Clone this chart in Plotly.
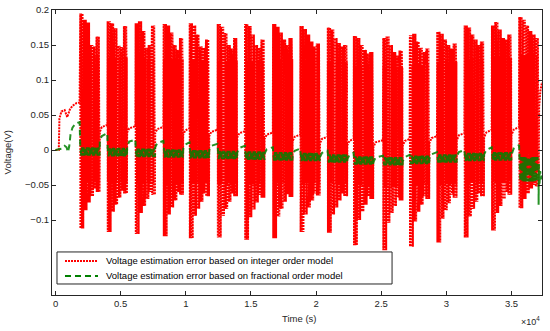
import plotly.graph_objects as go

# ---------------- data ----------------
# start time (s) of each of the 17 dynamic-current blocks
block_start = [1900, 4000, 6150, 8300, 10300, 12450, 14550, 16700, 18800,
               20900, 22900, 25150, 27200, 29300, 31400, 33500, 35600]
# start time of each sub-pulse inside a block (s, relative) and its duration
pulse_offset = [0, 250, 500, 750, 1000, 1250]
pulse_width = 230

# integer-order model error: highest value of each sub-pulse (V)
block_peaks = [
    [0.195, 0.186, 0.182, 0.150, 0.148, 0.162],
    [0.184, 0.181, 0.174, 0.149, 0.147, 0.177],
    [0.181, 0.184, 0.170, 0.146, 0.150, 0.178],
    [0.180, 0.178, 0.168, 0.150, 0.143, 0.160],
    [0.181, 0.178, 0.165, 0.148, 0.146, 0.158],
    [0.180, 0.176, 0.167, 0.150, 0.145, 0.160],
    [0.180, 0.177, 0.165, 0.150, 0.146, 0.158],
    [0.180, 0.176, 0.168, 0.158, 0.150, 0.160],
    [0.177, 0.173, 0.165, 0.155, 0.148, 0.152],
    [0.175, 0.172, 0.160, 0.153, 0.148, 0.150],
    [0.163, 0.160, 0.150, 0.143, 0.138, 0.140],
    [0.160, 0.162, 0.150, 0.140, 0.135, 0.142],
    [0.164, 0.166, 0.155, 0.146, 0.140, 0.145],
    [0.169, 0.166, 0.158, 0.150, 0.145, 0.152],
    [0.178, 0.175, 0.165, 0.158, 0.150, 0.155],
    [0.178, 0.183, 0.172, 0.160, 0.158, 0.165],
    [0.190, 0.186, 0.178, 0.170, 0.165, 0.160],
]
# integer-order model error: lowest value of each sub-pulse (V)
block_troughs = [
    [-0.112, -0.086, -0.075, -0.066, -0.055, -0.060],
    [-0.117, -0.088, -0.078, -0.068, -0.058, -0.062],
    [-0.120, -0.090, -0.080, -0.070, -0.060, -0.064],
    [-0.123, -0.092, -0.082, -0.072, -0.060, -0.064],
    [-0.126, -0.094, -0.084, -0.074, -0.062, -0.066],
    [-0.125, -0.094, -0.084, -0.074, -0.062, -0.066],
    [-0.128, -0.096, -0.085, -0.075, -0.064, -0.068],
    [-0.126, -0.095, -0.084, -0.074, -0.063, -0.067],
    [-0.117, -0.092, -0.082, -0.072, -0.062, -0.065],
    [-0.118, -0.092, -0.082, -0.072, -0.062, -0.066],
    [-0.136, -0.100, -0.088, -0.078, -0.066, -0.070],
    [-0.143, -0.104, -0.090, -0.080, -0.068, -0.072],
    [-0.138, -0.102, -0.088, -0.078, -0.066, -0.070],
    [-0.132, -0.098, -0.086, -0.076, -0.064, -0.068],
    [-0.125, -0.095, -0.084, -0.074, -0.062, -0.066],
    [-0.115, -0.090, -0.080, -0.070, -0.060, -0.064],
    [-0.083, -0.070, -0.062, -0.055, -0.050, -0.052],
]
# dense band of the integer-order error inside each block (V)
core_hi = [0.135, 0.132, 0.130, 0.130, 0.128, 0.128, 0.128, 0.130, 0.128,
           0.126, 0.120, 0.118, 0.122, 0.126, 0.130, 0.132, 0.136]
core_lo = [-0.045, -0.046, -0.047, -0.048, -0.048, -0.048, -0.049, -0.048, -0.047,
           -0.047, -0.050, -0.052, -0.050, -0.049, -0.047, -0.045, -0.032]
# order in which the levels are visited inside a sub-pulse
stroke_pattern = ['P', 'T', 'H', 'L', 'H', 'L', 'P', 'L', 'H', 'L', 'H', 'T',
                  'H', 'L', 'H', 'L', 'P', 'L', 'H', 'L', 'H', 'T']

# integer-order error during rest periods between blocks (V)
red_gap_start = [0.026, 0.025, 0.024, 0.022, 0.020, 0.018, 0.016, 0.013,
                 0.010, 0.007, 0.004, 0.006, 0.010, 0.014, 0.018, 0.021]
red_gap_mid = [0.033, 0.031, 0.030, 0.028, 0.026, 0.024, 0.022, 0.019,
               0.016, 0.013, 0.011, 0.013, 0.017, 0.021, 0.025, 0.029]
red_gap_end = [0.036, 0.034, 0.033, 0.031, 0.029, 0.027, 0.025, 0.022,
               0.019, 0.016, 0.014, 0.016, 0.020, 0.024, 0.029, 0.033]

# fractional-order model error inside each block (V)
green_block_hi = [0.004, 0.003, 0.002, 0.001, 0.000, -0.001, -0.002, -0.003, -0.004,
                  -0.006, -0.009, -0.010, -0.008, -0.006, -0.004, -0.003, -0.010]
green_block_lo = [-0.008, -0.009, -0.010, -0.011, -0.012, -0.013, -0.014, -0.015, -0.016,
                  -0.018, -0.021, -0.022, -0.020, -0.018, -0.016, -0.015, -0.045]
# fractional-order error during rest periods (V)
green_gap_start = [0.014, 0.006, 0.004, 0.002, 0.000, -0.003, -0.005, -0.007,
                   -0.010, -0.013, -0.017, -0.016, -0.012, -0.009, -0.006, -0.007]
green_gap_mid = [0.020, 0.012, 0.010, 0.008, 0.006, 0.003, 0.001, -0.001,
                 -0.004, -0.007, -0.011, -0.010, -0.006, -0.003, 0.000, 0.002]
green_gap_end = [0.024, 0.015, 0.013, 0.011, 0.009, 0.006, 0.004, 0.002,
                 -0.001, -0.004, -0.008, -0.007, -0.003, 0.000, 0.004, 0.007]

# start-up section before the first block
pre_red_t = [0, 250, 300, 450, 700, 900, 1100, 1300, 1600, 1850]
pre_red = [0, 0, 0.045, 0.055, 0.057, 0.047, 0.058, 0.063, 0.067, 0.068]
pre_green_t = [0, 500, 700, 850, 950, 1050, 1150, 1300, 1550, 1850]
pre_green = [0, 0.002, 0.006, 0.004, -0.003, 0.005, 0.022, 0.032, 0.038, 0.040]
# end section after the last block
tail_red_t = [37120, 37220, 37340]
tail_red = [0.062, 0.085, 0.097]
tail_green_t = [37080, 37100, 37150, 37200, 37260, 37340]
tail_green = [-0.078, -0.020, -0.048, -0.030, -0.042, -0.032]

x_tickvals = [0, 5000, 10000, 15000, 20000, 25000, 30000, 35000]
x_ticktext = ['0', '0.5', '1', '1.5', '2', '2.5', '3', '3.5']
y_tickvals = [-0.1, -0.05, 0, 0.05, 0.1, 0.15, 0.2]
y_ticktext = ['\u22120.1', '\u22120.05', '0', '0.05', '0.1', '0.15', '0.2']

series_names = ['Voltage estimation error based on integer order model',
                'Voltage estimation error based on fractional order model']
series_colors = ['#FF0000', '#008000']
series_dash = ['2px,1px', '6px,4px']
series_width = [2, 2]

# ---------------- build series ----------------
n_blocks = len(block_start)
red_x, red_y = list(pre_red_t), list(pre_red)
green_x, green_y = list(pre_green_t), list(pre_green)
for b in range(n_blocks):
    s = block_start[b]
    for k, off in enumerate(pulse_offset):
        t0 = s + off
        lv = {'P': block_peaks[b][k], 'T': block_troughs[b][k],
              'H': core_hi[b], 'L': core_lo[b]}
        n = len(stroke_pattern)
        for i, key in enumerate(stroke_pattern):
            red_x.append(t0 + pulse_width * i / (n - 1))
            red_y.append(lv[key])
        for i, gv in enumerate([green_block_hi[b], green_block_lo[b],
                                green_block_hi[b], green_block_lo[b]]):
            green_x.append(t0 + pulse_width * i / 3)
            green_y.append(gv)
    end = s + pulse_offset[-1] + pulse_width
    if b < n_blocks - 1:
        nxt = block_start[b + 1]
        red_x += [end + 20, end + 180, nxt - 20]
        red_y += [red_gap_start[b], red_gap_mid[b], red_gap_end[b]]
        green_x += [end + 20, end + 180, nxt - 20]
        green_y += [green_gap_start[b], green_gap_mid[b], green_gap_end[b]]
red_x += tail_red_t
red_y += tail_red
green_x += tail_green_t
green_y += tail_green

fig = go.Figure()
fig.add_trace(go.Scatter(
    x=red_x, y=red_y, mode='lines', name=series_names[0], showlegend=False,
    line=dict(color=series_colors[0], width=series_width[0], dash=series_dash[0])))
fig.add_trace(go.Scatter(
    x=green_x, y=green_y, mode='lines', name=series_names[1], showlegend=False,
    opacity=0.85,
    line=dict(color=series_colors[1], width=series_width[1], dash=series_dash[1])))

axis_common = dict(showline=True, mirror='ticks', linecolor='#262626', linewidth=1,
                   ticks='inside', ticklen=4, tickcolor='#262626', showgrid=False,
                   zeroline=False, automargin=False,
                   tickfont=dict(size=9.5, color='#262626'))
fig.update_xaxes(range=[-270, 37340], tickvals=x_tickvals, ticktext=x_ticktext,
                 **axis_common)
fig.update_yaxes(range=[-0.207, 0.2], tickvals=y_tickvals, ticktext=y_ticktext,
                 **axis_common)

# legend box (MATLAB style) built from shapes + text
shapes = [dict(type='rect', xref='paper', yref='paper',
               x0=0.0102, x1=0.694, y0=0.0386, y1=0.151,
               line=dict(color='#262626', width=1), fillcolor='white', layer='above')]
annotations = []
legend_rows_y = [0.1193, 0.0667]
for i in range(2):
    shapes.append(dict(type='line', xref='paper', yref='paper',
                       x0=0.0265, x1=0.0939, y0=legend_rows_y[i], y1=legend_rows_y[i],
                       line=dict(color=series_colors[i], width=series_width[i],
                                 dash=series_dash[i]), layer='above'))
    annotations.append(dict(text=series_names[i], xref='paper', yref='paper',
                            x=0.1061, y=legend_rows_y[i], xanchor='left', yanchor='middle',
                            showarrow=False, font=dict(size=9.5, color='#000000')))
annotations += [
    dict(text='\u00d710<sup>4</sup>', xref='paper', yref='paper',
         x=0.999, y=-0.092, xanchor='right', yanchor='middle',
         showarrow=False, font=dict(size=9, color='#262626')),
    dict(text='Time (s)', xref='paper', yref='paper',
         x=0.505, y=-0.084, xanchor='center', yanchor='middle',
         showarrow=False, font=dict(size=9.5, color='#262626')),
    dict(text='Voltage(V)', xref='paper', yref='paper', textangle=-90,
         x=-0.09, y=0.5, xanchor='center', yanchor='middle',
         showarrow=False, font=dict(size=9.5, color='#262626')),
]

fig.update_layout(
    width=550, height=331,
    margin=dict(l=52, r=8, t=10, b=36),
    paper_bgcolor='white', plot_bgcolor='white',
    font=dict(family='Liberation Sans, Arial, sans-serif', size=9.5, color='#262626'),
    showlegend=False,
    shapes=shapes,
    annotations=annotations,
)

fig.write_html('out.html', config={'displayModeBar': False},
               post_script="document.body.style.margin='0';document.body.style.overflow='hidden';")
